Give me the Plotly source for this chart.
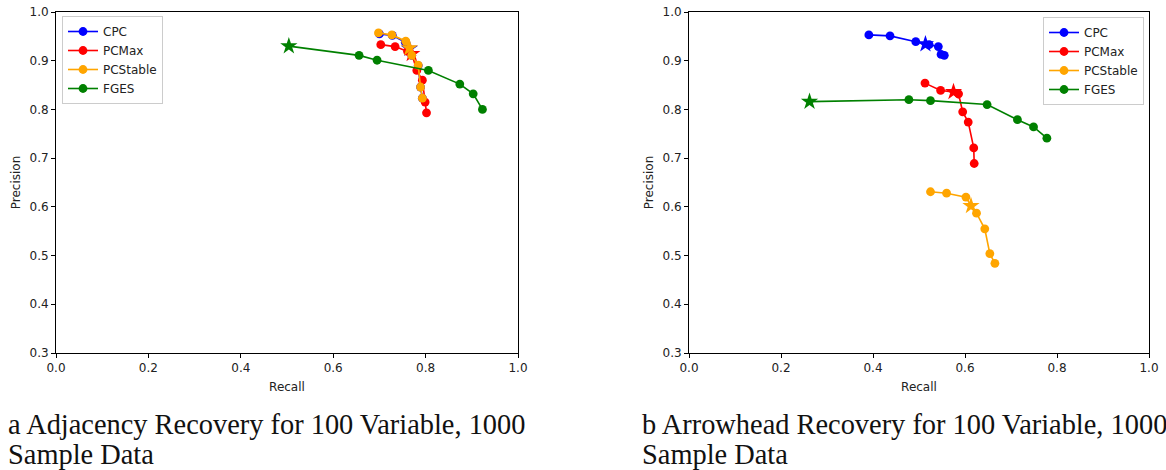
import plotly.graph_objects as go

# ---------------- data ----------------
series_names = ["CPC", "PCMax", "PCStable", "FGES"]
series_colors = ["blue", "red", "orange", "green"]

# (a) Adjacency recovery
adj_cpc_recall = [0.700, 0.728, 0.756, 0.765, 0.770, 0.784, 0.789, 0.793]
adj_cpc_precision = [0.955, 0.952, 0.938, 0.925, 0.911, 0.890, 0.846, 0.823]
adj_pcmax_recall = [0.703, 0.734, 0.761, 0.770, 0.781, 0.793, 0.799, 0.802]
adj_pcmax_precision = [0.933, 0.929, 0.919, 0.914, 0.880, 0.860, 0.815, 0.793]
adj_pcstable_recall = [0.698, 0.727, 0.757, 0.765, 0.770, 0.784, 0.789, 0.793]
adj_pcstable_precision = [0.957, 0.953, 0.940, 0.926, 0.911, 0.891, 0.846, 0.823]
adj_fges_recall = [0.504, 0.656, 0.695, 0.806, 0.874, 0.903, 0.923]
adj_fges_precision = [0.930, 0.911, 0.901, 0.880, 0.852, 0.832, 0.800]
adj_star_index = [3, 3, 3, 0]

# (b) Arrowhead recovery
arr_cpc_recall = [0.391, 0.437, 0.493, 0.514, 0.522, 0.542, 0.548, 0.555]
arr_cpc_precision = [0.953, 0.951, 0.939, 0.934, 0.933, 0.929, 0.913, 0.911]
arr_pcmax_recall = [0.513, 0.547, 0.575, 0.586, 0.595, 0.607, 0.619, 0.620]
arr_pcmax_precision = [0.854, 0.839, 0.836, 0.832, 0.795, 0.774, 0.721, 0.689]
arr_pcstable_recall = [0.525, 0.560, 0.602, 0.613, 0.625, 0.643, 0.654, 0.665]
arr_pcstable_precision = [0.631, 0.628, 0.620, 0.602, 0.587, 0.555, 0.504, 0.484]
arr_fges_recall = [0.262, 0.478, 0.525, 0.648, 0.714, 0.749, 0.778]
arr_fges_precision = [0.816, 0.820, 0.818, 0.810, 0.779, 0.764, 0.741]
arr_star_index = [3, 2, 3, 0]

x_ticks = [0.0, 0.2, 0.4, 0.6, 0.8, 1.0]
y_ticks = [0.3, 0.4, 0.5, 0.6, 0.7, 0.8, 0.9, 1.0]

caption_a = ["a Adjacency Recovery for 100 Variable, 1000", "Sample Data"]
caption_b = ["b Arrowhead Recovery for 100 Variable, 1000", "Sample Data"]

# ---------------- figure ----------------
W, H = 1166, 470


def fx(px):
    return px / W


def fy(py):
    return 1 - py / H


fig = go.Figure()

panels = [
    dict(
        xs=[adj_cpc_recall, adj_pcmax_recall, adj_pcstable_recall, adj_fges_recall],
        ys=[adj_cpc_precision, adj_pcmax_precision, adj_pcstable_precision, adj_fges_precision],
        stars=adj_star_index, xa="x", ya="y", legend="legend",
    ),
    dict(
        xs=[arr_cpc_recall, arr_pcmax_recall, arr_pcstable_recall, arr_fges_recall],
        ys=[arr_cpc_precision, arr_pcmax_precision, arr_pcstable_precision, arr_fges_precision],
        stars=arr_star_index, xa="x2", ya="y2", legend="legend2",
    ),
]

for p in panels:
    for name, color, xv, yv, si in zip(series_names, series_colors, p["xs"], p["ys"], p["stars"]):
        symbols = ["star" if i == si else "circle" for i in range(len(xv))]
        sizes = [13 if i == si else 8.8 for i in range(len(xv))]
        fig.add_trace(go.Scatter(
            x=xv, y=yv, mode="lines+markers", name=name,
            line=dict(color=color, width=1.6),
            marker=dict(color=color, symbol=symbols, size=sizes, opacity=1, line=dict(width=0)),
            xaxis=p["xa"], yaxis=p["ya"], legend=p["legend"],
            showlegend=False,
        ))
        # legend entry (line + circle)
        fig.add_trace(go.Scatter(
            x=[None], y=[None], mode="lines+markers", name=name,
            line=dict(color=color, width=1.6),
            marker=dict(color=color, symbol="circle", size=8.8, opacity=1),
            xaxis=p["xa"], yaxis=p["ya"], legend=p["legend"],
            showlegend=True,
        ))

tick_font = dict(family="DejaVu Sans", size=12, color="#222")
axis_common = dict(
    showline=True, mirror=True, linecolor="black", linewidth=1,
    ticks="outside", ticklen=4, tickcolor="black", tickwidth=1,
    showgrid=False, zeroline=False, tickfont=tick_font, tickformat=".1f",
    automargin=False, ticklabeloverflow="allow",
)
cap_font = dict(family="Liberation Serif", size=28.4, color="#111")
annotations = []
for x0, lines in [(8, caption_a), (642, caption_b)]:
    for k, txt in enumerate(lines):
        annotations.append(dict(
            text=txt, xref="paper", yref="paper", x=fx(x0 - 1), y=fy(424 + 30 * k),
            xanchor="left", yanchor="middle", align="left", showarrow=False,
            borderpad=0, font=cap_font,
        ))

fig.update_layout(
    width=W, height=H,
    margin=dict(l=0, r=0, t=0, b=0, pad=0),
    paper_bgcolor="white", plot_bgcolor="white",
    font=dict(family="DejaVu Sans", size=12, color="#222"),
    xaxis=dict(domain=[fx(56), fx(518)], range=[0, 1], tickvals=x_ticks, anchor="y",
               title=dict(text="Recall", standoff=8, font=dict(size=12)), **axis_common),
    yaxis=dict(domain=[fy(353), fy(12)], range=[0.3, 1.0], tickvals=y_ticks, anchor="x",
               title=dict(text="Precision", standoff=6, font=dict(size=12)), **axis_common),
    xaxis2=dict(domain=[fx(689), fx(1149)], range=[0, 1], tickvals=x_ticks, anchor="y2",
                title=dict(text="Recall", standoff=8, font=dict(size=12)), **axis_common),
    yaxis2=dict(domain=[fy(353), fy(12)], range=[0.3, 1.0], tickvals=y_ticks, anchor="x2",
                title=dict(text="Precision", standoff=6, font=dict(size=12)), **axis_common),
    legend=dict(x=fx(62), y=fy(16), xanchor="left", yanchor="top",
                bgcolor="rgba(255,255,255,0.8)", bordercolor="#cccccc", borderwidth=1,
                font=dict(size=12, color="#222"), itemwidth=30, tracegroupgap=0),
    legend2=dict(x=fx(1144), y=fy(17), xanchor="right", yanchor="top",
                 bgcolor="rgba(255,255,255,0.8)", bordercolor="#cccccc", borderwidth=1,
                 font=dict(size=12, color="#222"), itemwidth=30, tracegroupgap=0),
    annotations=annotations,
)

# remove the default 8px page margin so the figure fills the window exactly
fig.write_html("out.html", config={"displayModeBar": False},
               post_script="document.body.style.margin='0px';")
